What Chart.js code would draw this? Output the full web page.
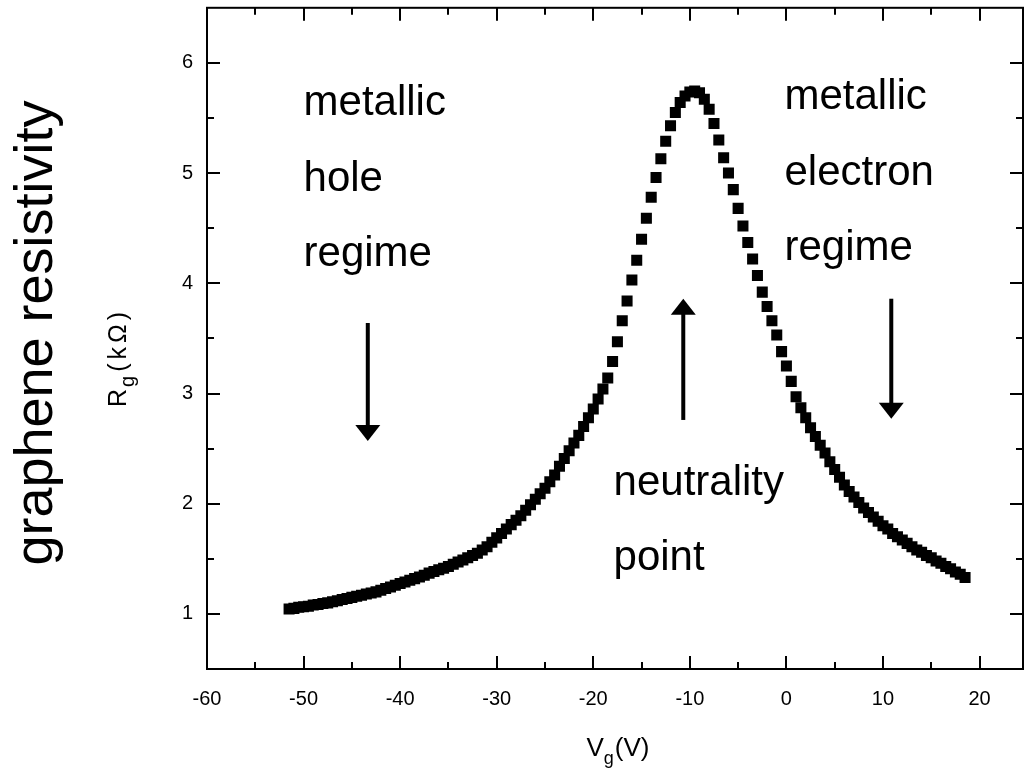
<!DOCTYPE html>
<html>
<head>
<meta charset="utf-8">
<script src="https://cdn.jsdelivr.net/npm/chart.js@4"></script>
<style>
  html, body { margin: 0; padding: 0; background: #fff; }
  #wrap { width: 1032px; height: 779px; }
</style>
</head>
<body>
<div id="wrap"><canvas id="grafico" width="1032" height="779"></canvas></div>
<script>
// gate voltage (V) and graphene resistance (kOhm)
const vg = [
  -51.5, -51, -50.5, -50, -49.5, -49, -48.5, -48, -47.5, -47,
  -46.5, -46, -45.5, -45, -44.5, -44, -43.5, -43, -42.5, -42,
  -41.5, -41, -40.5, -40, -39.5, -39, -38.5, -38, -37.5, -37,
  -36.5, -36, -35.5, -35, -34.5, -34, -33.5, -33, -32.5, -32,
  -31.5, -31, -30.5, -30, -29.5, -29, -28.5, -28, -27.5, -27,
  -26.5, -26, -25.5, -25, -24.5, -24, -23.5, -23, -22.5, -22,
  -21.5, -21, -20.5, -20, -19.5, -19, -18.5, -18, -17.5, -17,
  -16.5, -16, -15.5, -15, -14.5, -14, -13.5, -13, -12.5, -12,
  -11.5, -11, -10.5, -10, -9.5, -9, -8.5, -8, -7.5, -7,
  -6.5, -6, -5.5, -5, -4.5, -4, -3.5, -3, -2.5, -2,
  -1.5, -1, -0.5, 0, 0.5, 1, 1.5, 2, 2.5, 3,
  3.5, 4, 4.5, 5, 5.5, 6, 6.5, 7, 7.5, 8,
  8.5, 9, 9.5, 10, 10.5, 11, 11.5, 12, 12.5, 13,
  13.5, 14, 14.5, 15, 15.5, 16, 16.5, 17, 17.5, 18,
  18.5
];
const rg = [
  1.045, 1.05, 1.06, 1.065, 1.07, 1.08, 1.085, 1.095, 1.10, 1.11,
  1.12, 1.13, 1.14, 1.15, 1.16, 1.17, 1.18, 1.19, 1.20, 1.215,
  1.23, 1.245, 1.26, 1.275, 1.29, 1.305, 1.32, 1.335, 1.35, 1.37,
  1.385, 1.40, 1.415, 1.43, 1.45, 1.47, 1.49, 1.51, 1.53, 1.55,
  1.58, 1.61, 1.65, 1.69, 1.73, 1.77, 1.81, 1.85, 1.89, 1.94,
  1.99, 2.04, 2.09, 2.14, 2.20, 2.26, 2.34, 2.41, 2.48, 2.55,
  2.62, 2.70, 2.78, 2.86, 2.95, 3.04, 3.14, 3.29, 3.47, 3.66,
  3.84, 4.03, 4.21, 4.40, 4.59, 4.78, 4.96, 5.13, 5.29, 5.43,
  5.55, 5.64, 5.70, 5.735, 5.745, 5.73, 5.67, 5.58, 5.45, 5.30,
  5.14, 5.00, 4.85, 4.68, 4.52, 4.37, 4.22, 4.07, 3.92, 3.79,
  3.66, 3.53, 3.38, 3.25, 3.11, 2.97, 2.87, 2.78, 2.69, 2.61,
  2.53, 2.46, 2.38, 2.31, 2.24, 2.17, 2.11, 2.06, 2.01, 1.96,
  1.92, 1.88, 1.84, 1.80, 1.77, 1.73, 1.70, 1.67, 1.64, 1.61,
  1.58, 1.56, 1.53, 1.51, 1.48, 1.46, 1.43, 1.41, 1.38, 1.36,
  1.33
];

// tick labels
const xTicks = [-60, -50, -40, -30, -20, -10, 0, 10, 20];
const yTicks = [1, 2, 3, 4, 5, 6];
const xMinor = [-55, -45, -35, -25, -15, -5, 5, 15];
const yMinor = [1.5, 2.5, 3.5, 4.5, 5.5];

// annotations
const textoEsq = ['metallic', 'hole', 'regime'];
const textoDir = ['metallic', 'electron', 'regime'];
const textoMeio = ['neutrality', 'point'];

const FONTE = '"Liberation Sans", Arial, Helvetica, sans-serif';

const pontos = vg.map((v, i) => ({ x: v, y: rg[i] }));

// desenha moldura, ticks internos, setas, textos e titulos
const extras = {
  id: 'extras',
  afterDraw(chart) {
    const ctx = chart.ctx;
    const a = chart.chartArea;
    const sx = chart.scales.x;
    const sy = chart.scales.y;
    ctx.save();
    ctx.strokeStyle = '#000';
    ctx.fillStyle = '#000';
    ctx.lineWidth = 2;
    ctx.strokeRect(a.left, a.top, a.right - a.left, a.bottom - a.top);

    function tickX(v, len) {
      const px = Math.round(sx.getPixelForValue(v));
      ctx.beginPath();
      ctx.moveTo(px, a.bottom); ctx.lineTo(px, a.bottom - len);
      ctx.moveTo(px, a.top); ctx.lineTo(px, a.top + len);
      ctx.stroke();
    }
    function tickY(v, len) {
      const py = Math.round(sy.getPixelForValue(v));
      ctx.beginPath();
      ctx.moveTo(a.left, py); ctx.lineTo(a.left + len, py);
      ctx.moveTo(a.right, py); ctx.lineTo(a.right - len, py);
      ctx.stroke();
    }
    xTicks.forEach(v => tickX(v, 13));
    xMinor.forEach(v => tickX(v, 7));
    yTicks.forEach(v => tickY(v, 13));
    yMinor.forEach(v => tickY(v, 7));

    // setas
    function seta(v, r1, r2) {
      const px = sx.getPixelForValue(v);
      const y1 = sy.getPixelForValue(r1);
      const y2 = sy.getPixelForValue(r2);
      const dir = y2 > y1 ? 1 : -1;
      ctx.lineWidth = 4;
      ctx.beginPath();
      ctx.moveTo(px, y1);
      ctx.lineTo(px, y2 - dir * 14);
      ctx.stroke();
      ctx.beginPath();
      ctx.moveTo(px, y2);
      ctx.lineTo(px - 12.5, y2 - dir * 16);
      ctx.lineTo(px + 12.5, y2 - dir * 16);
      ctx.closePath();
      ctx.fill();
    }
    seta(-43.35, 3.64, 2.57);
    seta(-10.68, 2.76, 3.86);
    seta(10.86, 3.86, 2.77);

    // textos
    ctx.font = '42px ' + FONTE;
    ctx.textAlign = 'left';
    ctx.textBaseline = 'alphabetic';
    const yEsq = [5.53, 4.84, 4.16];
    textoEsq.forEach((t, i) => ctx.fillText(t, sx.getPixelForValue(-50), sy.getPixelForValue(yEsq[i])));
    const yDir = [5.585, 4.895, 4.215];
    textoDir.forEach((t, i) => ctx.fillText(t, sx.getPixelForValue(-0.2), sy.getPixelForValue(yDir[i])));
    const yMeio = [2.08, 1.40];
    textoMeio.forEach((t, i) => ctx.fillText(t, sx.getPixelForValue(-17.9), sy.getPixelForValue(yMeio[i])));

    // titulo do eixo x: Vg(V)
    const cx = (a.left + a.right) / 2;
    ctx.font = '26px ' + FONTE;
    const wV = ctx.measureText('V').width;
    const wP = ctx.measureText('(V)').width;
    ctx.font = '18px ' + FONTE;
    const wg = ctx.measureText('g').width + 1;
    let x0 = cx - (wV + wg + wP) / 2 + 3;
    const base = 756;
    ctx.font = '26px ' + FONTE;
    ctx.fillText('V', x0, base);
    ctx.font = '18px ' + FONTE;
    ctx.fillText('g', x0 + wV, base + 8);
    ctx.font = '26px ' + FONTE;
    ctx.fillText('(V)', x0 + wV + wg, base);

    // titulo do eixo y: Rg(kΩ)
    ctx.save();
    ctx.translate(126, 407);
    ctx.rotate(-Math.PI / 2);
    ctx.font = '25px ' + FONTE;
    const wR = ctx.measureText('R').width;
    ctx.fillText('R', 0, 0);
    ctx.font = '20px ' + FONTE;
    ctx.fillText('g', wR + 2, 8);
    const wg2 = ctx.measureText('g').width;
    ctx.font = '25px ' + FONTE;
    if ('letterSpacing' in ctx) ctx.letterSpacing = '4px';
    ctx.fillText('(kΩ)', wR + wg2 + 6, 0);
    ctx.restore();

    // rotulo grande
    ctx.save();
    ctx.translate(52, 333);
    ctx.rotate(-Math.PI / 2);
    ctx.font = '54px ' + FONTE;
    ctx.textAlign = 'center';
    ctx.fillText('graphene resistivity', 0, 0);
    ctx.restore();

    ctx.restore();
  }
};

function criarGrafico() {
  const ctx = document.getElementById('grafico');
  new Chart(ctx, {
    type: 'scatter',
    data: {
      datasets: [{
        label: 'Rg',
        data: pontos,
        pointStyle: 'rect',
        pointRadius: 7.8,
        pointBackgroundColor: '#000',
        pointBorderWidth: 0,
        showLine: false
      }]
    },
    options: {
      responsive: false,
      animation: false,
      events: [],
      layout: { padding: { left: 0, right: 9, top: 6, bottom: 0 } },
      plugins: { legend: { display: false }, tooltip: { enabled: false } },
      scales: {
        x: {
          type: 'linear',
          min: -60,
          max: 24.5,
          grid: { display: false, drawTicks: false },
          border: { display: false },
          afterBuildTicks: s => { s.ticks = xTicks.map(v => ({ value: v })); },
          afterFit: s => { s.height = 110; s.paddingLeft = 0; s.paddingRight = 0; },
          ticks: { color: '#000', padding: 18, maxRotation: 0, font: { family: FONTE, size: 20 } }
        },
        y: {
          type: 'linear',
          min: 0.5,
          max: 6.5,
          grid: { display: false, drawTicks: false },
          border: { display: false },
          afterBuildTicks: s => { s.ticks = yTicks.map(v => ({ value: v })); },
          afterFit: s => { s.width = 207; s.paddingTop = 0; s.paddingBottom = 0; },
          ticks: { color: '#000', padding: 14, font: { family: FONTE, size: 20 } }
        }
      }
    },
    plugins: [extras]
  });
}

document.addEventListener('DOMContentLoaded', criarGrafico);
</script>
</body>
</html>
